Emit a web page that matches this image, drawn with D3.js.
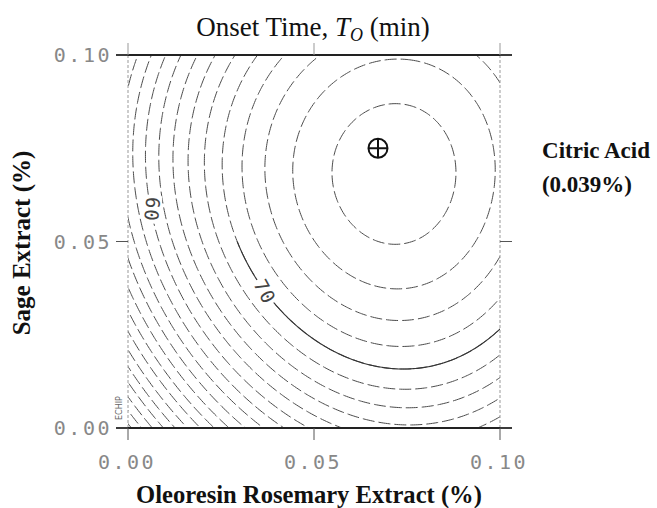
<!DOCTYPE html>
<html><head><meta charset="utf-8">
<script src="https://cdn.jsdelivr.net/npm/d3@7"></script>
<style>body{margin:0;background:#fff}</style>
</head><body>
<svg id="c" width="657" height="508"></svg>
<script>
// ---- data ----
const xTicks = [0, 0.05, 0.10];
const yTicks = [0, 0.05, 0.10];
const xTickLabels = ["0.00", "0.05", "0.10"];
const yTickLabels = ["0.00", "0.05", "0.10"];
const contourLevels = [34, 36, 38, 40, 42, 44, 46, 48, 50, 52, 54, 56, 58, 60, 62, 64, 66, 68, 70, 72, 74, 76, 78];
const solidLevels = [70];
const solidBelowY = [0.05];          // the solid stretch of the 70 contour lies below this Sage level
const labelTexts = ["60", "70"];
const labelX = [0.0065, 0.0368];
const labelY = [0.0586, 0.0366];
const labelAngle = [95, 62];
const optimum = [0.0672, 0.0750];
// response surface: [Tmax, x0, y0, bxx, byy, bxy3]
const surfaceCoef = [79.2, 0.0715, 0.0681, 4324, 3376, 9000];

const svg = d3.select("#c");
const x = d3.scaleLinear([0, 0.1], [128, 500]);
const y = d3.scaleLinear([0, 0.1], [428, 55]);

function T(px, py) {
  const [tm, x0, y0, a, b, e] = surfaceCoef;
  const dx = px - x0, dy = py - y0;
  return tm - a * dx * dx - b * dy * dy + e * dx * dy * (dx + dy);
}

const g0 = -0.01, g1 = 0.11, n = 240, step = (g1 - g0) / n;
const values = new Array(n * n);
for (let j = 0; j < n; j++) for (let i = 0; i < n; i++)
  values[j * n + i] = T(g0 + (i + 0.5) * step, g0 + (j + 0.5) * step);

const contours = d3.contours().size([n, n]).thresholds(contourLevels)(values);
const proj = d3.geoTransform({
  point: function (gx, gy) { this.stream.point(x(g0 + gx * step), y(g0 + gy * step)); }
});
const path = d3.geoPath(proj);

const defs = svg.append("defs");
defs.append("clipPath").attr("id", "clip").append("rect")
  .attr("x", x(0)).attr("y", y(0.1)).attr("width", x(0.1) - x(0)).attr("height", y(0) - y(0.1));
defs.append("clipPath").attr("id", "clipLow").append("rect")
  .attr("x", x(0)).attr("y", y(solidBelowY[0])).attr("width", x(0.1) - x(0)).attr("height", y(0) - y(solidBelowY[0]));

const cg = svg.append("g").attr("clip-path", "url(#clip)");
cg.selectAll("path.dash").data(contours).join("path")
  .attr("class", "dash")
  .attr("d", path)
  .attr("fill", "none")
  .attr("stroke", "#4a4a4a")
  .attr("stroke-width", 1)
  .attr("stroke-dasharray", "12,4");
svg.append("g").attr("clip-path", "url(#clipLow)")
  .selectAll("path").data(contours.filter(d => solidLevels.includes(d.value))).join("path")
  .attr("d", path)
  .attr("fill", "none")
  .attr("stroke", "#333")
  .attr("stroke-width", 1.1);

labelTexts.forEach((t, i) => {
  const lg = svg.append("g").attr("transform", `translate(${x(labelX[i])},${y(labelY[i])}) rotate(${labelAngle[i]})`);
  lg.append("rect").attr("x", -14).attr("y", -9).attr("width", 28).attr("height", 18).attr("fill", "#fff");
  lg.append("text").attr("text-anchor", "middle").attr("dy", "0.36em")
    .attr("font-family", "DejaVu Sans Mono").attr("font-size", 19).attr("fill", "#444")
    .attr("letter-spacing", 1).text(t);
});

const og = svg.append("g").attr("transform", `translate(${x(optimum[0])},${y(optimum[1])})`);
og.append("circle").attr("r", 9.5).attr("fill", "none").attr("stroke", "#111").attr("stroke-width", 2);
og.append("line").attr("x1", -9.5).attr("x2", 9.5).attr("stroke", "#111").attr("stroke-width", 2);
og.append("line").attr("y1", -9.5).attr("y2", 9.5).attr("stroke", "#111").attr("stroke-width", 2);

const tk = 12;
svg.append("line").attr("x1", x(0)).attr("x2", x(0)).attr("y1", y(0)).attr("y2", y(0.1))
  .attr("stroke", "#999").attr("stroke-width", 1).attr("stroke-dasharray", "3,2");
svg.append("line").attr("x1", x(0.1)).attr("x2", x(0.1)).attr("y1", y(0)).attr("y2", y(0.1))
  .attr("stroke", "#999").attr("stroke-width", 1).attr("stroke-dasharray", "3,2");
svg.append("line").attr("x1", x(0) - tk).attr("x2", x(0.1) + tk).attr("y1", y(0.1)).attr("y2", y(0.1))
  .attr("stroke", "#222").attr("stroke-width", 2);
svg.append("line").attr("x1", x(0) - tk).attr("x2", x(0.1) + tk).attr("y1", y(0)).attr("y2", y(0))
  .attr("stroke", "#222").attr("stroke-width", 2);
xTicks.forEach(v => {
  svg.append("line").attr("x1", x(v)).attr("x2", x(v)).attr("y1", y(0)).attr("y2", y(0) + tk).attr("stroke", "#555");
  svg.append("line").attr("x1", x(v)).attr("x2", x(v)).attr("y1", y(0.1)).attr("y2", y(0.1) - tk).attr("stroke", "#999");
});
yTicks.forEach(v => {
  svg.append("line").attr("x1", x(0)).attr("x2", x(0) - tk).attr("y1", y(v)).attr("y2", y(v)).attr("stroke", "#555");
  svg.append("line").attr("x1", x(0.1)).attr("x2", x(0.1) + tk).attr("y1", y(v)).attr("y2", y(v)).attr("stroke", "#555");
});
const tickFont = {fam: "DejaVu Sans Mono", size: 20, fill: "#888", ls: 2.5};
xTicks.forEach((v, i) => {
  svg.append("text").attr("x", x(v) - 1).attr("y", 469).attr("text-anchor", "middle")
    .attr("font-family", tickFont.fam).attr("font-size", tickFont.size).attr("fill", tickFont.fill)
    .attr("letter-spacing", tickFont.ls).text(xTickLabels[i]);
});
yTicks.forEach((v, i) => {
  svg.append("text").attr("x", 112).attr("y", y(v) + 7).attr("text-anchor", "end")
    .attr("font-family", tickFont.fam).attr("font-size", tickFont.size).attr("fill", tickFont.fill)
    .attr("letter-spacing", tickFont.ls).text(yTickLabels[i]);
});
svg.append("text").attr("transform", `translate(122,${y(0) - 8}) rotate(-90)`)
  .attr("font-family", "DejaVu Sans").attr("font-size", 8).attr("fill", "#666").text("ECHIP");

const serif = "Liberation Serif, Times New Roman, serif";
const title = svg.append("text").attr("x", 313).attr("y", 36).attr("text-anchor", "middle")
  .attr("font-family", serif).attr("font-size", 27).attr("fill", "#111");
title.append("tspan").text("Onset Time, ");
title.append("tspan").attr("font-style", "italic").text("T");
title.append("tspan").attr("font-style", "italic").attr("font-size", 18).attr("dy", 5).text("O");
title.append("tspan").attr("dy", -5).text(" (min)");

svg.append("text").attr("x", 309).attr("y", 503).attr("text-anchor", "middle")
  .attr("font-family", serif).attr("font-weight", "bold").attr("font-size", 24.6).attr("fill", "#111")
  .text("Oleoresin Rosemary Extract (%)");
svg.append("text").attr("transform", "translate(30,243) rotate(-90)").attr("text-anchor", "middle")
  .attr("font-family", serif).attr("font-weight", "bold").attr("font-size", 25).attr("fill", "#111")
  .text("Sage Extract (%)");
svg.append("text").attr("x", 596).attr("y", 158).attr("text-anchor", "middle")
  .attr("font-family", serif).attr("font-weight", "bold").attr("font-size", 23).attr("fill", "#111")
  .text("Citric Acid");
svg.append("text").attr("x", 587).attr("y", 192).attr("text-anchor", "middle")
  .attr("font-family", serif).attr("font-weight", "bold").attr("font-size", 23).attr("fill", "#111")
  .text("(0.039%)");
</script>
</body></html>
